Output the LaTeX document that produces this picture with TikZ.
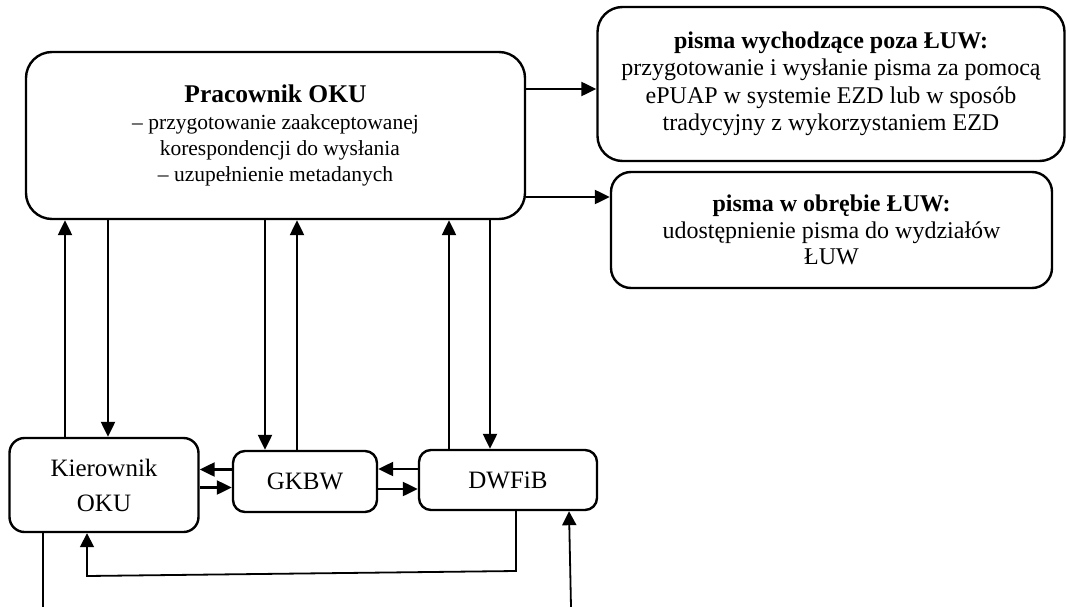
\documentclass[tikz,border=0pt]{standalone}
\usepackage{fontspec}
\setmainfont{Liberation Serif}
\usetikzlibrary{arrows.meta}

\begin{document}
\begin{tikzpicture}[x=1pt, y=-1pt,
  box/.style={draw, line width=2.4pt, rectangle, inner sep=0pt, align=center},
  conn/.style={line width=2.3pt, -{Triangle[length=15pt,width=14pt]}},
  thinconn/.style={line width=1.8pt, -{Triangle[length=14pt,width=14pt]}},
  plain/.style={line width=1.8pt}
]
\useasboundingbox (0,0) rectangle (1067,607);

% main worker box
\node[box, rounded corners=26pt, minimum width=499pt, minimum height=167pt,
      font=\fontsize{21.5}{26}\selectfont] (prac) at (275.5,135.5)
  {{\bfseries\fontsize{25.5}{28}\selectfont Pracownik OKU}\\[1pt]
   – przygotowanie zaakceptowanej\\
   \hspace*{0.4em}korespondencji do wysłania\\
   – uzupełnienie metadanych};

% outgoing letters
\node[box, rounded corners=25pt, minimum width=467pt, minimum height=154pt,
      font=\fontsize{24}{27.5}\selectfont] (out) at (831,84)
  {\textbf{pisma wychodzące poza ŁUW:}\\
   przygotowanie i wysłanie pisma za pomocą\\
   ePUAP w systemie EZD lub w sposób\\
   tradycyjny z wykorzystaniem EZD};

% internal letters
\node[box, rounded corners=20pt, minimum width=441pt, minimum height=116pt,
      font=\fontsize{24}{26.5}\selectfont] (inner) at (831.5,230)
  {\textbf{pisma w obrębie ŁUW:}\\
   udostępnienie pisma do wydziałów\\
   ŁUW};

% lower row
\node[box, rounded corners=15pt, minimum width=189pt, minimum height=94pt,
      font=\fontsize{25}{35}\selectfont] (kier) at (104,485)
  {Kierownik\\OKU};
\node[box, rounded corners=12pt, minimum width=144pt, minimum height=61pt,
      font=\fontsize{25}{30}\selectfont] (gkbw) at (305,481.5) {GKBW};
\node[box, rounded corners=12pt, minimum width=178pt, minimum height=60pt,
      font=\fontsize{25}{30}\selectfont] (dwfib) at (508,480) {DWFiB};

% to the right-hand boxes
\draw[conn] ([yshift=46.5pt]prac.east) -- ([yshift=46.5pt]prac.east -| out.west);
\draw[conn] ([yshift=-61.5pt]prac.east) -- ([yshift=-61.5pt]prac.east -| inner.west);

% vertical links with the worker box
\draw[conn] ([xshift=-39pt]kier.north) -- ([xshift=-39pt]kier.north |- prac.south);
\draw[conn] ([xshift=4pt]kier.north |- prac.south) -- ([xshift=4pt]kier.north);
\draw[conn] ([xshift=-40pt]gkbw.north |- prac.south) -- ([xshift=-40pt]gkbw.north);
\draw[conn] ([xshift=-8pt]gkbw.north) -- ([xshift=-8pt]gkbw.north |- prac.south);
\draw[conn] ([xshift=-59pt]dwfib.north) -- ([xshift=-59pt]dwfib.north |- prac.south);
\draw[conn] ([xshift=-18pt]dwfib.north |- prac.south) -- ([xshift=-18pt]dwfib.north);

% horizontal links in the lower row
\draw[conn] ([yshift=12pt]gkbw.west) -- ([yshift=12pt]gkbw.west -| kier.east);
\draw[conn] ([yshift=-6pt]gkbw.west -| kier.east) -- ([yshift=-6pt]gkbw.west);
\draw[conn] ([yshift=11pt]dwfib.west) -- ([yshift=11pt]dwfib.west -| gkbw.east);
\draw[conn] ([yshift=-9pt]dwfib.west -| gkbw.east) -- ([yshift=-9pt]dwfib.west);

% return loop and loose ends at the bottom
\coordinate (loopR) at (516,571);
\coordinate (loopL) at (87,576);
\coordinate (endL) at (43,607);
\coordinate (endR) at (571,607);
\draw[thinconn] (loopR |- dwfib.south) -- (loopR) -- (loopL) -- (loopL |- kier.south);
\draw[plain] (endL |- kier.south) -- (endL);
\draw[thinconn] (endR) -- ([xshift=61pt]dwfib.south);
\end{tikzpicture}
\end{document}
